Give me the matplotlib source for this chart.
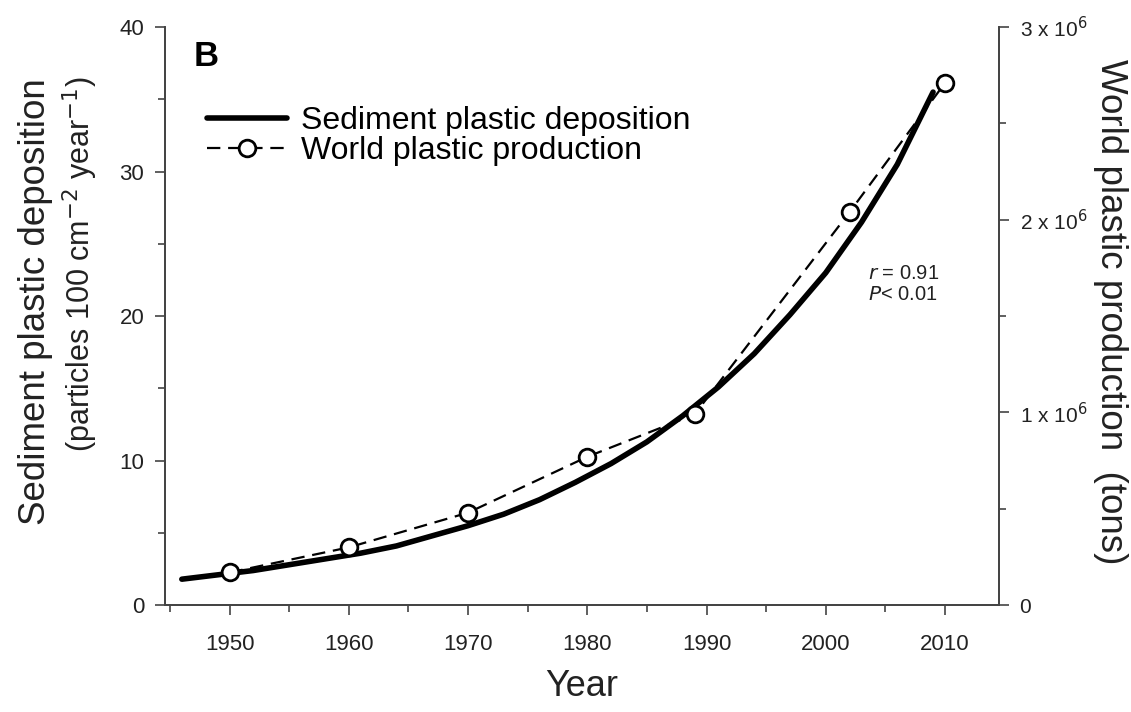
import matplotlib.pyplot as plt
from matplotlib.ticker import MultipleLocator, FuncFormatter

plt.rcParams['font.family'] = ['Liberation Sans', 'DejaVu Sans']

# sediment plastic deposition (fitted curve)
sed_years = [1946, 1949, 1952, 1955, 1958, 1961, 1964, 1967, 1970, 1973, 1976,
             1979, 1982, 1985, 1988, 1991, 1994, 1997, 2000, 2003, 2006, 2009]
sed_values = [1.8, 2.1, 2.4, 2.8, 3.2, 3.6, 4.1, 4.8, 5.5, 6.3, 7.3,
              8.5, 9.8, 11.3, 13.1, 15.1, 17.4, 20.1, 23.0, 26.5, 30.5, 35.5]

# world plastic production (tons)
prod_years = [1950, 1960, 1970, 1980, 1989, 2002, 2010]
prod_tons = [0.17e6, 0.30e6, 0.48e6, 0.77e6, 0.99e6, 2.04e6, 2.71e6]

x_ticks = [1950, 1960, 1970, 1980, 1990, 2000, 2010]

fig = plt.figure(figsize=(11.31, 7.12), dpi=100)
ax = fig.add_axes([0.146, 0.150, 0.737, 0.812])
ax2 = ax.twinx()

spine_col = '#444444'
for a in (ax, ax2):
    for s in a.spines.values():
        s.set_color(spine_col)
        s.set_linewidth(1.3)
    a.spines['top'].set_visible(False)

ln1, = ax.plot(sed_years, sed_values, color='black', lw=4.0, solid_capstyle='round',
               solid_joinstyle='round', label='Sediment plastic deposition', zorder=3)
ln2, = ax2.plot(prod_years, prod_tons, color='black', lw=1.6, ls=(0, (6, 3.5)),
                marker='o', ms=12, mfc='white', mec='black', mew=2,
                label='World plastic production', zorder=4)

ax.set_xlim(1944.6, 2014.5)
ax.set_ylim(0, 40)
ax2.set_ylim(0, 3e6)

ax.set_xticks(x_ticks)
ax.xaxis.set_minor_locator(MultipleLocator(5))
ax.yaxis.set_major_locator(MultipleLocator(10))
ax.yaxis.set_minor_locator(MultipleLocator(5))
ax2.yaxis.set_major_locator(MultipleLocator(1e6))
ax2.yaxis.set_minor_locator(MultipleLocator(0.5e6))


def sci(v, pos):
    if v == 0:
        return '0'
    return r'%d x 10$^{6}$' % round(v / 1e6)


ax2.yaxis.set_major_formatter(FuncFormatter(sci))

ax.tick_params(axis='both', which='major', direction='out', length=7, width=1.2,
               color=spine_col, labelsize=16, labelcolor='#222222', pad=8)
ax.tick_params(axis='both', which='minor', direction='out', length=5, width=1.2, color=spine_col)
ax.tick_params(axis='x', pad=14)
ax2.tick_params(axis='y', which='major', direction='out', length=7, width=1.2,
                color=spine_col, labelsize=15, labelcolor='#222222', pad=8)
ax2.tick_params(axis='y', which='minor', direction='out', length=5, width=1.2, color=spine_col)

ax.set_xlabel('Year', fontsize=26, color='#222222', labelpad=10)
fig.text(0.031, 0.577, 'Sediment plastic deposition', rotation=90, fontsize=26.5,
         color='#222222', ha='center', va='center')
fig.text(0.071, 0.629, r'(particles 100 cm$^{-2}$ year$^{-1}$)', rotation=90, fontsize=22,
         color='#222222', ha='center', va='center')
fig.text(0.982, 0.562, 'World plastic production  (tons)', rotation=270, fontsize=26.5,
         color='#222222', ha='center', va='center')

ax.text(0.034, 0.978, 'B', transform=ax.transAxes, fontsize=25, fontweight='bold',
        va='top', ha='left')

ax.legend([ln1, ln2], [ln1.get_label(), ln2.get_label()], loc='upper left',
          bbox_to_anchor=(0.035, 0.885), frameon=False, fontsize=23,
          handlelength=2.5, handletextpad=0.45, labelspacing=0.0, numpoints=1,
          borderaxespad=0.0)

ax.text(0.843, 0.565, r'$r$ = 0.91', transform=ax.transAxes, fontsize=14.5, color='#222222')
ax.text(0.843, 0.528, r'$P$< 0.01', transform=ax.transAxes, fontsize=14.5, color='#222222')

fig.savefig('out.png', dpi=100)
